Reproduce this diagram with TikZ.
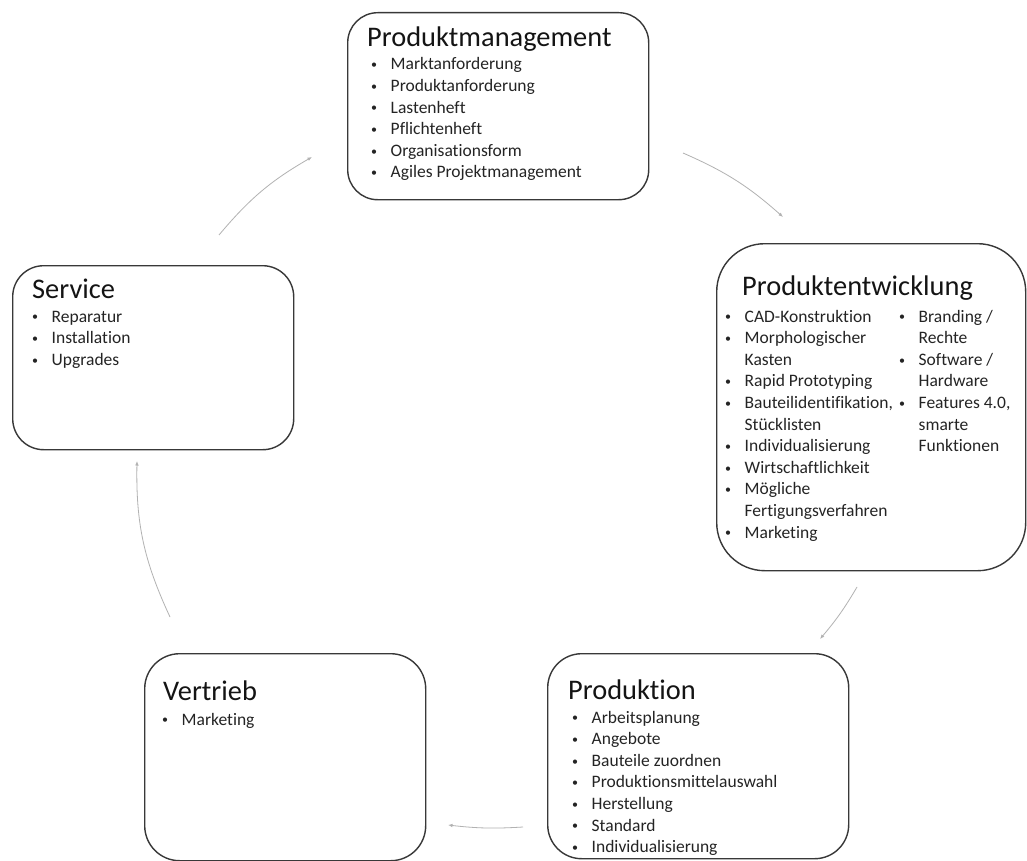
\documentclass[tikz,border=0pt]{standalone}
\usepackage{fontspec}
\setmainfont{Carlito}[Ligatures={NoCommon}]
\usetikzlibrary{arrows.meta}

% bullet and hanging indent for the item lists
\newcommand\blt{\makebox[19.5pt][l]{\raisebox{1.2pt}{\fontsize{12}{12}\selectfont •}}}
\newcommand\blind{\hspace*{19.5pt}}

\begin{document}
\begin{tikzpicture}[x=1pt,y=-1pt,
  box/.style={draw=black!78, line width=1.4pt, rounded corners=#1,
              inner sep=0pt, anchor=north west},
  title/.style={font=\fontsize{28.4}{34}\selectfont, text=black!92,
                inner sep=0pt, anchor=base west},
  items/.style={font=\fontsize{17.5}{21.6}\selectfont, text=black!86,
                inner sep=0pt, anchor=base west, text width=#1, align=left,
                execute at begin node={\spaceskip=0pt\xspaceskip=0pt\relax}},
  items/.default=260pt,
  flow/.style={draw=black!30, line width=0.8pt,
               -{Latex[length=4.5pt,width=3.6pt]}}
]
\fill[white] (0,0) rectangle (1027,861);
\useasboundingbox (0,0) rectangle (1027,861);

% --- Produktmanagement ---
\node[box=30pt, minimum width=301pt, minimum height=187pt] (pm) at (347,12) {};
\node[title] (pmT) at (367,47) {Produktmanagement};
\node[items] (pmL) at (371,70) {%
  \blt Marktanforderung\\
  \blt Produktanforderung\\
  \blt Lastenheft\\
  \blt Pflichtenheft\\
  \blt Organisationsform\\
  \blt Agiles Projektmanagement};

% --- Produktentwicklung ---
\node[box=48pt, minimum width=309pt, minimum height=327pt] (pe) at (716,243) {};
\node[title] (peT) at (742,295) {Produktentwicklung};
\node[items] (peL) at (725,322) {%
  \blt CAD-Konstruktion\\
  \blt Morphologischer\\
  \blind Kasten\\
  \blt Rapid Prototyping\\
  \blt Bauteilidentifikation,\\
  \blind Stücklisten\\
  \blt Individualisierung\\
  \blt Wirtschaftlichkeit\\
  \blt Mögliche\\
  \blind Fertigungsverfahren\\
  \blt Marketing};
\node[items=120pt] (peR) at (899,322) {%
  \blt Branding /\\
  \blind Rechte\\
  \blt Software /\\
  \blind Hardware\\
  \blt Features 4.0,\\
  \blind smarte\\
  \blind Funktionen};

% --- Produktion ---
\node[box=34pt, minimum width=301pt, minimum height=205pt] (pr) at (547,653) {};
\node[title] (prT) at (568,699) {Produktion};
\node[items] (prL) at (572,723) {%
  \blt Arbeitsplanung\\
  \blt Angebote\\
  \blt Bauteile zuordnen\\
  \blt Produktionsmittelauswahl\\
  \blt Herstellung\\
  \blt Standard\\
  \blt Individualisierung};

% --- Vertrieb ---
\node[box=35pt, minimum width=281pt, minimum height=207pt] (vt) at (144,653) {};
\node[title] (vtT) at (163,700) {Vertrieb};
\node[items] (vtL) at (162,725) {\blt Marketing};

% --- Service ---
\node[box=31pt, minimum width=281pt, minimum height=184pt] (sv) at (12,265) {};
\node[title] (svT) at (32,298) {Service};
\node[items] (svL) at (32,322) {%
  \blt Reparatur\\
  \blt Installation\\
  \blt Upgrades};

% --- cycle arrows between the boxes ---
\coordinate (svOut) at (219,235);  \coordinate (pmIn) at (312,157);
\coordinate (pmOut) at (683,153);  \coordinate (peIn) at (783,217);
\coordinate (peOut) at (857,587);  \coordinate (prIn) at (820,639);
\coordinate (prOut) at (523,827);  \coordinate (vtIn) at (448,825);
\coordinate (vtOut) at (170,617);  \coordinate (svIn) at (137,461);

\draw[flow] (svOut) to[bend left=10] (pmIn);
\draw[flow] (pmOut) to[bend left=9] (peIn);
\draw[flow] (peOut) to[bend left=5] (prIn);
\draw[flow] (prOut) to[bend left=5] (vtIn);
\draw[flow] (vtOut) to[bend left=13] (svIn);
\end{tikzpicture}
\end{document}
